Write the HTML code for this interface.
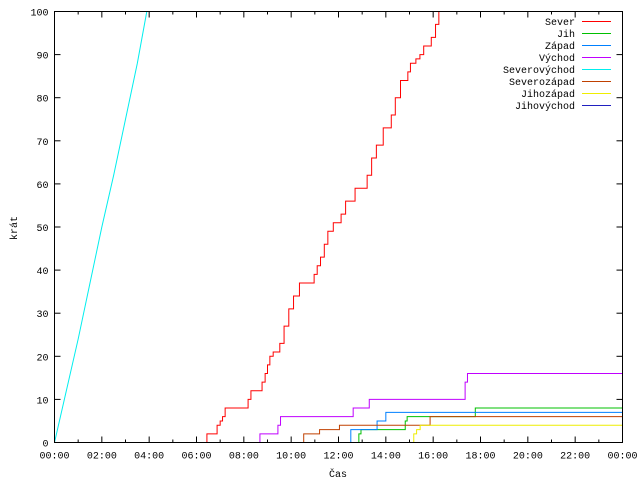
<!DOCTYPE html>
<html><head><meta charset="utf-8"><style>
html,body{margin:0;padding:0;background:#fff;}
svg{display:block;font-family:"Liberation Mono","DejaVu Sans Mono",monospace;font-size:10px;}
</style></head><body>
<svg id="chart" width="640" height="480" xmlns="http://www.w3.org/2000/svg">
<rect x="0" y="0" width="640" height="480" fill="#fff"/>
<g id="grid"></g>
<g id="series"></g>
<rect x="54.5" y="11.5" width="568" height="431" fill="none" stroke="#000" stroke-width="1"/>
<g id="axes"></g>
<text x="338" y="477" text-anchor="middle">Čas</text>
<text transform="translate(17,228) rotate(-90)" text-anchor="middle">krát</text>
<g id="legend"></g>
</svg>
<script>
const seriesNames = ["Sever","Jih","Západ","Východ","Severovýchod","Severozápad","Jihozápad","Jihovýchod"];
const seriesColors = ["#ff0000","#00c000","#0080ff","#c000ff","#00eeee","#c04000","#eeee00","#2020c0"];
const yTicks = [0,10,20,30,40,50,60,70,80,90,100];
const xTickLabels = ["00:00","02:00","04:00","06:00","08:00","10:00","12:00","14:00","16:00","18:00","20:00","22:00","00:00"];
// step series: times (hours) when value changes, and new values
const severT = [0,6.44,6.87,7.0,7.1,7.21,8.18,8.3,8.77,8.9,9.0,9.1,9.24,9.52,9.7,9.9,10.1,10.35,10.97,11.1,11.24,11.4,11.55,11.78,12.11,12.3,12.7,13.21,13.4,13.6,13.89,14.23,14.4,14.62,14.93,15.04,15.27,15.44,15.6,15.92,16.1,16.24];
const severV = [0,2,4,5,6,8,10,12,14,16,18,20,21,23,27,31,34,37,39,41,43,46,49,51,53,56,59,62,66,69,73,76,80,84,86,88,89,90,92,94,97,100];
const jihT = [0,12.86,12.95,14.82,14.9,17.78,24];
const jihV = [0,2,3,5,6,8,8];
const zapadT = [0,12.52,13.63,14.0,24];
const zapadV = [0,3,5,7,7];
const vychodT = [0,8.68,9.44,9.55,12.62,13.3,17.35,17.45,24];
const vychodV = [0,2,4,6,8,10,14,16,16];
const severovychodT = [0,0.5,1,1.5,2,2.5,3,3.5,3.9];
const severovychodV = [0,12,24,37,50,62,75,88,100];
const severozapadT = [0,10.53,11.2,12.04,15.87,24];
const severozapadV = [0,2,3,4,6,6];
const jihozapadT = [0,15.18,15.3,15.45,24];
const jihozapadV = [0,2,3,4,4];

const X0=54.5,X1=622.5,Y0=442.5,Y1=11.5;
const xs = h => X0 + h/24*(X1-X0);
const ys = v => Y0 - v/100*(Y0-Y1);
const NS="http://www.w3.org/2000/svg";
function mk(tag,attrs,parent){const e=document.createElementNS(NS,tag);for(const k in attrs)e.setAttribute(k,attrs[k]);parent.appendChild(e);return e;}
const axes=document.getElementById('axes');
yTicks.forEach(v=>{
  const y=ys(v);
  mk('line',{x1:X0,y1:y,x2:X0+6,y2:y,stroke:'#000'},axes);
  mk('line',{x1:X1,y1:y,x2:X1-6,y2:y,stroke:'#000'},axes);
  const t=mk('text',{x:X0-6,y:y+4,'text-anchor':'end'},axes);
  t.textContent=v;
  
  
});
for(let h=0;h<=24;h++){
  const x=xs(h), L=(h%2===0)?6:3;
  mk('line',{x1:x,y1:Y0,x2:x,y2:Y0-L,stroke:'#000'},axes);
  mk('line',{x1:x,y1:Y1,x2:x,y2:Y1+L,stroke:'#000'},axes);
}
xTickLabels.forEach((s,i)=>{
  const t=mk('text',{x:xs(i*2),y:Y0+16,'text-anchor':'middle'},axes);
  t.textContent=s;
  
  
});
const ser=document.getElementById('series');
function stepPath(T,V){
  let d='M'+xs(T[0])+','+ys(V[0]);
  for(let i=1;i<T.length;i++){d+=' H'+xs(T[i])+' V'+ys(V[i]);}
  return d;
}
function linePath(T,V){return T.map((t,i)=>(i?'L':'M')+xs(t)+','+ys(V[i])).join(' ');}
const data=[[severT,severV,0,1],[jihT,jihV,1,1],[zapadT,zapadV,2,1],[vychodT,vychodV,3,1],[severovychodT,severovychodV,4,0],[severozapadT,severozapadV,5,1],[jihozapadT,jihozapadV,6,1]];
data.forEach(([T,V,ci,st])=>{
  const p=mk('path',{d:st?stepPath(T,V):linePath(T,V),fill:'none',stroke:seriesColors[ci],'stroke-width':1},ser);
  
  
});
const lg=document.getElementById('legend');
seriesNames.forEach((n,i)=>{
  const y=21+i*12;
  const g=mk('g',{},lg);
  
  
  const t=mk('text',{x:575,y:y+4,'text-anchor':'end'},g);
  t.textContent=n;
  mk('line',{x1:582,y1:y+0.5,x2:611,y2:y+0.5,stroke:seriesColors[i]},g);
});
</script>
</body></html>
